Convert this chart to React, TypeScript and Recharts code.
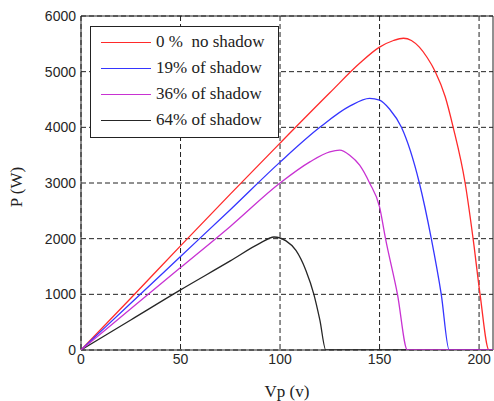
import React from "react";
import {
  LineChart,
  Line,
  XAxis,
  YAxis,
  CartesianGrid,
  ReferenceArea,
  Legend,
} from "recharts";

// Vp (v) / P (W) points, one pair of arrays per shading case
const V_NO_SHADOW = [0, 25, 50, 75, 100, 125, 140, 150, 157, 162, 166, 170, 174, 178, 183, 187, 193, 197, 200.5, 205, 207];
const P_NO_SHADOW = [0, 930, 1870, 2800, 3716, 4620, 5150, 5440, 5560, 5600, 5560, 5440, 5250, 5000, 4550, 4000, 3000, 2000, 1000, 0, 0];

const V_SHADOW_19 = [0, 25, 50, 75, 100, 120, 135, 145, 150, 155, 161, 170, 176, 181, 185, 207];
const P_SHADOW_19 = [0, 840, 1680, 2520, 3375, 4000, 4380, 4520, 4490, 4330, 4000, 3000, 2000, 1000, 0, 0];

const V_SHADOW_36 = [0, 25, 50, 75, 100, 115, 125, 130, 135, 140, 145, 150, 153, 159, 164, 207];
const P_SHADOW_36 = [0, 740, 1480, 2220, 3000, 3380, 3560, 3590, 3500, 3320, 3000, 2570, 2000, 1000, 0, 0];

const V_SHADOW_64 = [0, 25, 50, 75, 90, 97, 103, 108, 113, 117, 120, 123, 207];
const P_SHADOW_64 = [0, 540, 1080, 1600, 1920, 2030, 1960, 1790, 1430, 1000, 540, 0, 0];

const X_TICKS = [0, 50, 100, 150, 200];
const Y_TICKS = [0, 1000, 2000, 3000, 4000, 5000, 6000];
const X_MAX = 207;
const Y_MAX = 6000;

const toPoints = (vs: number[], ps: number[]) => vs.map((v, i) => ({ v, p: ps[i] }));

const SERIES = [
  { key: "s0", name: "0 %  no shadow", color: "#ff2a2a", data: toPoints(V_NO_SHADOW, P_NO_SHADOW) },
  { key: "s19", name: "19% of shadow", color: "#3535ff", data: toPoints(V_SHADOW_19, P_SHADOW_19) },
  { key: "s36", name: "36% of shadow", color: "#c832d2", data: toPoints(V_SHADOW_36, P_SHADOW_36) },
  { key: "s64", name: "64% of shadow", color: "#262626", data: toPoints(V_SHADOW_64, P_SHADOW_64) },
];

// draw order: magenta last so its zero tail sits on top like the original
const DRAW_ORDER = ["s0", "s19", "s64", "s36"];

const SERIF = '"Liberation Serif", "Times New Roman", serif';
const SANS = '"Liberation Sans", Arial, sans-serif';

function BoxLegend() {
  return (
    <div
      style={{
        width: 187,
        height: 108,
        border: "1px solid #222",
        background: "#fff",
        paddingTop: 2,
        boxSizing: "content-box",
      }}
    >
      {SERIES.map((s) => (
        <div
          key={s.key}
          style={{ height: 26, display: "flex", alignItems: "center", paddingLeft: 10 }}
        >
          <div style={{ width: 50, height: 0, borderTop: `1.3px solid ${s.color}` }} />
          <span
            style={{
              marginLeft: 5,
              fontFamily: SERIF,
              fontSize: 17,
              color: "#222",
              whiteSpace: "pre",
              lineHeight: "26px",
            }}
          >
            {s.name}
          </span>
        </div>
      ))}
    </div>
  );
}

export default function App() {
  return (
    <div style={{ position: "absolute", left: 0, top: 0, background: "#fff" }}>
      <LineChart width={494} height={401} margin={{ top: 16, right: 1, left: 31, bottom: 0 }}>
        <CartesianGrid
          stroke="#222"
          strokeDasharray="5 3"
          horizontalValues={Y_TICKS}
          verticalValues={X_TICKS}
        />
        <XAxis
          type="number"
          dataKey="v"
          domain={[0, X_MAX]}
          ticks={X_TICKS}
          allowDataOverflow
          height={51}
          axisLine={false}
          tickLine={false}
          tickSize={0}
          tickMargin={4}
          tick={{ fontFamily: SANS, fontSize: 14, fill: "#262626" }}
          label={{
            value: "Vp (v)",
            position: "insideBottom",
            offset: 4,
            style: { fontFamily: SERIF, fontSize: 17, fill: "#222" },
          }}
        />
        <YAxis
          type="number"
          dataKey="p"
          domain={[0, Y_MAX]}
          ticks={Y_TICKS}
          allowDataOverflow
          width={50}
          axisLine={false}
          tickLine={false}
          tickSize={0}
          tickMargin={5}
          tick={{ fontFamily: SANS, fontSize: 14, fill: "#262626" }}
          label={{
            content: ({ viewBox }: any) => {
              const cy = viewBox.y + viewBox.height / 2 + 4;
              return (
                <text
                  x={22}
                  y={cy}
                  transform={`rotate(-90, 22, ${cy})`}
                  textAnchor="middle"
                  style={{ fontFamily: SERIF, fontSize: 17, fill: "#222" }}
                >
                  P (W)
                </text>
              );
            },
          }}
        />
        <ReferenceArea
          x1={0}
          x2={X_MAX}
          y1={0}
          y2={Y_MAX}
          fill="none"
          fillOpacity={0}
          stroke="#222"
          strokeWidth={1}
        />
        {DRAW_ORDER.map((k) => {
          const s = SERIES.find((x) => x.key === k)!;
          return (
            <Line
              key={s.key}
              data={s.data}
              dataKey="p"
              name={s.name}
              type="monotone"
              stroke={s.color}
              strokeWidth={1.3}
              dot={false}
              activeDot={false}
              isAnimationActive={false}
            />
          );
        })}
        <Legend
          layout="horizontal"
          verticalAlign="middle"
          align="center"
          content={() => <BoxLegend />}
          wrapperStyle={{ position: "absolute", left: 90, top: 26, width: "auto", height: "auto" }}
        />
      </LineChart>
    </div>
  );
}
